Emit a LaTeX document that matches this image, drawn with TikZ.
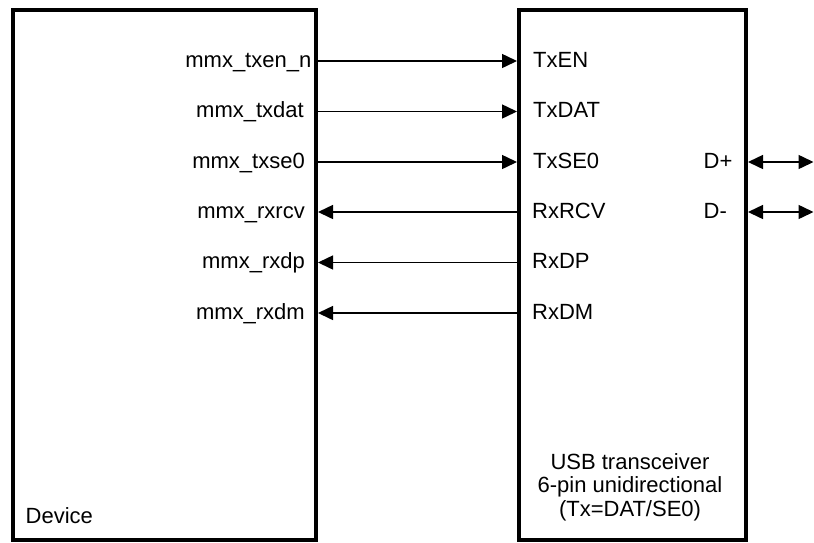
\documentclass[tikz,border=0pt]{standalone}
\usepackage{fontspec}
\setmainfont{Liberation Sans}
\usetikzlibrary{arrows.meta}

\begin{document}
\begin{tikzpicture}[x=1pt, y=-1pt,
        blk/.style={draw, line width=4pt, rectangle, inner sep=0pt},
        pin/.style={font=\fontsize{22}{23}\selectfont, inner sep=0pt, text height=12.6pt, text depth=0pt},
        sig/.style={line width=1.5pt, -{Triangle[length=15pt, width=14pt]}},
        bus/.style={line width=1.5pt, {Triangle[length=15pt, width=14pt]}-{Triangle[length=15pt, width=14pt]}}]
        \useasboundingbox (0,0) rectangle (814,542);

        \node[blk, minimum width=303pt, minimum height=530pt] (dev) at (164.5,274.5) {};
        \node[blk, minimum width=227pt, minimum height=530pt] (usb) at (632.5,274.5) {};

        \node[pin, anchor=east] (ltxen) at (311.5,61) {mmx\_txen\_n};
        \node[pin, anchor=east] (ltxdat) at (304,111.5) {mmx\_txdat};
        \node[pin, anchor=east] (ltxse) at (305,162) {mmx\_txse0};
        \node[pin, anchor=east] (lrxrcv) at (305,212) {mmx\_rxrcv};
        \node[pin, anchor=east] (lrxdp) at (305,262.5) {mmx\_rxdp};
        \node[pin, anchor=east] (lrxdm) at (305,313) {mmx\_rxdm};

        \node[pin, anchor=west] (rtxen) at (533,61) {TxEN};
        \node[pin, anchor=west] (rtxdat) at (533,111.5) {TxDAT};
        \node[pin, anchor=west] (rtxse) at (533,162) {TxSE0};
        \node[pin, anchor=west] (rrxrcv) at (532,212) {RxRCV};
        \node[pin, anchor=west] (rrxdp) at (532,262.5) {RxDP};
        \node[pin, anchor=west] (rrxdm) at (532,313) {RxDM};

        \node[pin, anchor=west] (dp) at (703.5,162) {D+};
        \node[pin, anchor=west] (dm) at (703.5,212) {D-};

        \node[font=\fontsize{22}{23}\selectfont, inner sep=0pt, anchor=base west] (devname) at (25.5,523) {Device};
        \node[font=\fontsize{22}{23.3}\selectfont, align=center, inner sep=0pt, anchor=base] (usbname) at (630,516)
            {USB transceiver\\6-pin unidirectional\\(Tx=DAT/SE0)};

        \coordinate (dpend) at (813.5,162);
        \coordinate (dmend) at (813.5,212);

        \draw[sig] (dev.east |- rtxen.west) -- (usb.west |- rtxen.west);
        \draw[sig] (dev.east |- rtxdat.west) -- (usb.west |- rtxdat.west);
        \draw[sig] (dev.east |- rtxse.west) -- (usb.west |- rtxse.west);
        \draw[sig] (usb.west |- rrxrcv.west) -- (dev.east |- rrxrcv.west);
        \draw[sig] (usb.west |- rrxdp.west) -- (dev.east |- rrxdp.west);
        \draw[sig] (usb.west |- rrxdm.west) -- (dev.east |- rrxdm.west);

        \draw[bus] (usb.east |- dp.east) -- (dpend);
        \draw[bus] (usb.east |- dm.east) -- (dmend);
    \end{tikzpicture}
\end{document}
